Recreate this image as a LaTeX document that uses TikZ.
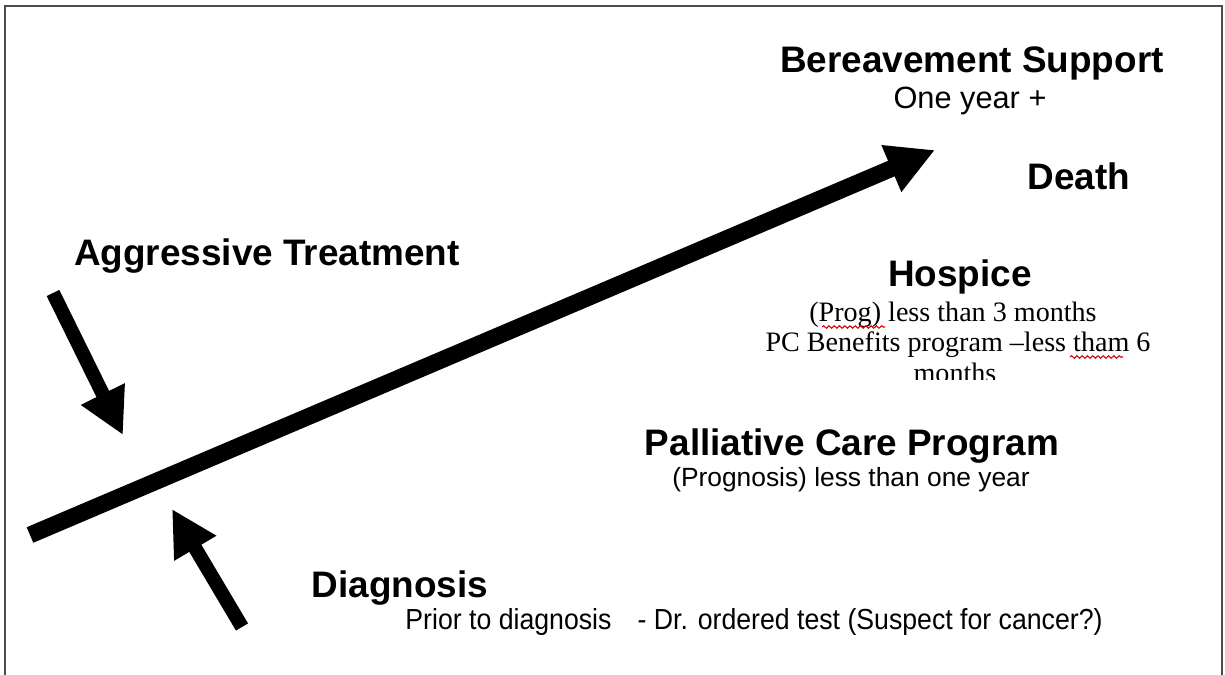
\documentclass[tikz,border=0pt]{standalone}
\usepackage{fontspec}
\setmainfont{Liberation Sans}
\newfontfamily\serifnote{Liberation Serif}
\newfontfamily\narrownote[FakeStretch=0.92]{Liberation Sans}
\usetikzlibrary{arrows.meta,decorations.pathmorphing}
\tikzset{
	heading/.style={font=\bfseries\fontsize{21}{25}\selectfont,inner sep=0pt,anchor=base},
	note/.style={font=\fontsize{15}{18}\selectfont,inner sep=0pt,anchor=base},
	hospicenote/.style={font=\serifnote\fontsize{16}{19}\selectfont,inner sep=0pt,anchor=base},
	bigarrow/.style={line width=9.6pt,-{Triangle[length=27pt,width=27pt]}},
	sidearrow/.style={line width=8pt,-{Triangle[length=26pt,width=26pt]}},
	squiggle/.style={red!80!black,line width=0.6pt,decorate,decoration={snake,amplitude=0.7pt,segment length=3pt}}
}
\begin{document}
\begin{tikzpicture}[x=0.02cm,y=-0.02cm]
	\useasboundingbox (0,0) rectangle (1225,675);
	\draw[line width=1.4pt][black!70](5,690)--(5,6)--(1222,6)--(1222,690);

	\coordinate (mainstart) at (30,535);
	\coordinate (mainend) at (935,150);
	\draw[bigarrow](mainstart)--(mainend);

	\coordinate (aggstart) at (53,293);
	\coordinate (aggend) at (123,435);
	\draw[sidearrow](aggstart)--(aggend);

	\coordinate (diagstart) at (242,627);
	\coordinate (diagend) at (172,509);
	\draw[sidearrow](diagstart)--(diagend);

	\node[heading] (bereave) at (972,73) {Bereavement Support};
	\node[note,font=\fontsize{17.5}{20}\selectfont] (oneyear) at (970,109) {One year +};
	\node[heading] (death) at (1079,190) {Death};
	\node[heading] (aggressive) at (267,266) {Aggressive Treatment};

	\node[heading] (hospice) at (960,287) {Hospice};
	\node[hospicenote] (prog) at (953,322) {(Prog) less than 3 months};
	\node[hospicenote] (benefits) at (958,352) {PC Benefits program –less tham 6};
	\begin{scope}
		\clip (700,300) rectangle (1225,380);
		\node[hospicenote] (months) at (955,383) {months};
	\end{scope}
	\draw[squiggle](822,327)--(885,327);
	\draw[squiggle](1070,357)--(1123,357);

	\node[heading] (palliative) at (852,456) {Palliative Care Program};
	\node[note] (prognosis) at (851,487) {(Prognosis) less than one year};

	\node[heading] (diagnosis) at (400,598) {Diagnosis};
	\node[note,font=\narrownote\fontsize{16.5}{19}\selectfont] (prior) at (754,630) {Prior to diagnosis\hspace{0.9em}- Dr. ordered test (Suspect for cancer?)};
\end{tikzpicture}
\end{document}
